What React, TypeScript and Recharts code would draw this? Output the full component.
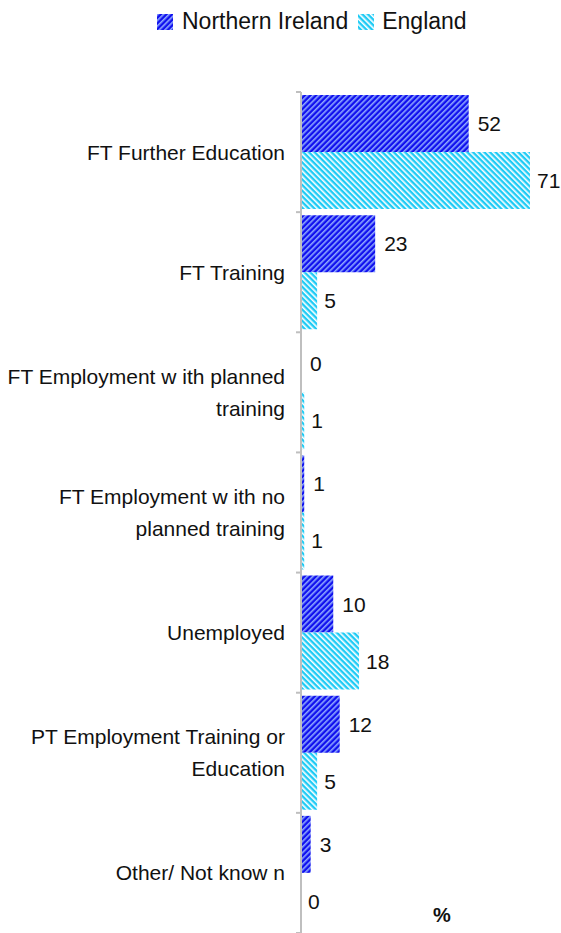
import { BarChart, Bar, XAxis, YAxis, LabelList } from "recharts";

const CATEGORIES = [
  "FT Further Education",
  "FT Training",
  "FT Employment w ith planned\ntraining",
  "FT Employment w ith no\nplanned training",
  "Unemployed",
  "PT Employment Training or\nEducation",
  "Other/ Not know n",
];
const NORTHERN_IRELAND = [52, 23, 0, 1, 10, 12, 3];
const ENGLAND = [71, 5, 1, 1, 18, 5, 0];

const data = CATEGORIES.map((name, i) => ({
  name,
  ni: NORTHERN_IRELAND[i],
  eng: ENGLAND[i],
}));

const FONT = "'Liberation Sans', Arial, sans-serif";
const TOP = 92;
const HEIGHT = 933;
const BAND = (HEIGHT - TOP) / CATEGORIES.length;

const CategoryTick = (props: any) => {
  const { y, payload, index } = props;
  const lines = String(payload.value).split("\n");
  const lh = 32;
  const start = y - ((lines.length - 1) * lh) / 2;
  return (
    <g>
      <line x1={296} x2={301} y1={y - BAND / 2} y2={y - BAND / 2} stroke="#bfbfbf" strokeWidth={2} />
      {index === CATEGORIES.length - 1 && (
        <line x1={296} x2={301} y1={y + BAND / 2} y2={y + BAND / 2} stroke="#bfbfbf" strokeWidth={2} />
      )}
      <text x={285} textAnchor="end" fontSize={21} fill="#111" fontFamily={FONT}>
        {lines.map((l, i) => (
          <tspan key={i} x={285} y={start + i * lh} dominantBaseline="central">
            {l}
          </tspan>
        ))}
      </text>
    </g>
  );
};

export default function App() {
  return (
    <div style={{ position: "absolute", left: 0, top: 0, width: 561, height: 933, background: "#fff" }}>
      <BarChart
        width={561}
        height={HEIGHT}
        data={data}
        layout="vertical"
        margin={{ top: TOP, right: 2, bottom: 0, left: 0 }}
        barCategoryGap={3}
        barGap={0}
      >
        <defs>
          <pattern id="niPat" patternUnits="userSpaceOnUse" width={4} height={4} patternTransform="rotate(45)">
            <rect width={4} height={4} fill="#1010ee" />
            <rect width={1.6} height={4} fill="#8fa8ff" />
          </pattern>
          <pattern id="engPat" patternUnits="userSpaceOnUse" width={4} height={4} patternTransform="rotate(-45)">
            <rect width={4} height={4} fill="#1ecbf5" />
            <rect width={1.6} height={4} fill="#ffffff" />
          </pattern>
        </defs>
        <XAxis type="number" domain={[0, 80]} hide />
        <YAxis
          type="category"
          dataKey="name"
          width={301}
          axisLine={{ stroke: "#bfbfbf", strokeWidth: 2 }}
          tickLine={false}
          tick={<CategoryTick />}
          interval={0}
        />
        <Bar dataKey="ni" name="Northern Ireland" fill="url(#niPat)" minPointSize={0.01} isAnimationActive={false}>
          <LabelList dataKey="ni" position="right" offset={9} fill="#111" fontSize={21} fontFamily={FONT} />
        </Bar>
        <Bar dataKey="eng" name="England" fill="url(#engPat)" minPointSize={0.01} isAnimationActive={false}>
          <LabelList dataKey="eng" position="right" offset={7} fill="#111" fontSize={21} fontFamily={FONT} />
        </Bar>
      </BarChart>
      <div
        style={{
          position: "absolute",
          left: 157,
          top: 8,
          display: "flex",
          alignItems: "center",
          fontFamily: FONT,
          fontSize: 23,
          color: "#111",
        }}
      >
        <svg width={16} height={16} style={{ marginRight: 9 }}>
          <rect width={16} height={16} fill="url(#niPat)" />
        </svg>
        <span style={{ marginRight: 10 }}>Northern Ireland</span>
        <svg width={16} height={16} style={{ marginRight: 8 }}>
          <rect width={16} height={16} fill="url(#engPat)" />
        </svg>
        <span>England</span>
      </div>
      <div
        style={{
          position: "absolute",
          left: 433,
          top: 904,
          fontFamily: FONT,
          fontSize: 20,
          fontWeight: "bold",
          color: "#111",
        }}
      >
        %
      </div>
    </div>
  );
}
